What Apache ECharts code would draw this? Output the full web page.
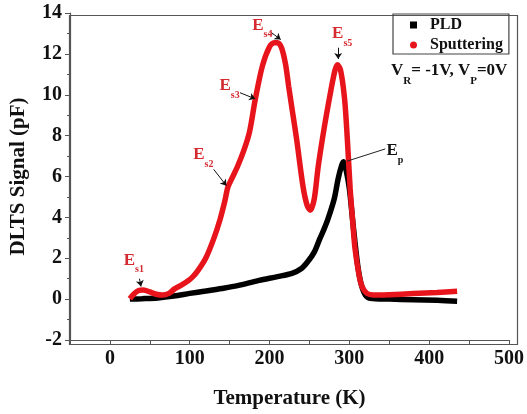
<!DOCTYPE html>
<html>
<head>
<meta charset="utf-8">
<script src="https://cdn.jsdelivr.net/npm/echarts@6/dist/echarts.min.js"></script>
<style>
  html, body { margin: 0; padding: 0; background: #fff; }
  #chart { width: 527px; height: 414px; }
</style>
</head>
<body>
<div id="chart"></div>
<script>
// Sputtering sample (red)
const sputterT = [25, 30, 36, 42, 50, 58, 66, 74, 81, 90, 98, 104, 110, 120, 130, 138, 144, 148, 154, 160, 168, 175, 182, 191, 200, 206, 210, 215, 220, 224, 229, 234, 242, 247, 251, 256, 261, 269, 277, 282, 285, 289, 294, 297.5, 301, 304, 307, 312, 316, 322, 330, 350, 380, 410, 435];
const sputterV = [0.02, 0.25, 0.42, 0.45, 0.35, 0.24, 0.2, 0.28, 0.5, 0.7, 0.9, 1.1, 1.38, 2.0, 2.95, 3.9, 4.8, 5.5, 6.0, 6.5, 7.3, 8.2, 9.75, 11.4, 12.35, 12.55, 12.55, 12.3, 11.5, 10.4, 9.1, 7.8, 5.5, 4.6, 4.35, 4.9, 6.5, 8.5, 10.25, 11.2, 11.47, 11.2, 9.8, 7.8, 5.4, 3.9, 2.5, 1.2, 0.6, 0.28, 0.2, 0.22, 0.27, 0.32, 0.38];

// PLD sample (black)
const pldT = [25, 40, 60, 80, 100, 120, 140, 160, 187, 210, 228, 240, 248, 256, 263, 268, 273, 281, 286, 290, 292.5, 296, 300, 304, 307, 311, 315, 320, 326, 350, 380, 410, 435];
const pldV = [0, 0.02, 0.06, 0.15, 0.28, 0.4, 0.52, 0.66, 0.92, 1.1, 1.26, 1.5, 1.84, 2.3, 2.96, 3.4, 3.9, 4.9, 5.9, 6.5, 6.72, 6.3, 5.4, 3.9, 2.8, 1.5, 0.7, 0.2, 0.04, 0.0, -0.03, -0.06, -0.1];

// peak labels: subscript, label position, arrow start, arrow end (data units)
const trapNames = ['s1', 's2', 's3', 's4', 's5'];
const trapLabelAt = [[30, 1.75], [117, 6.9], [150, 10.3], [191, 13.25], [291, 12.85]];
const trapArrowFrom = [[37, 1.0], [130, 6.35], [163, 10.1], [202, 13.05], [286, 12.3]];
const trapArrowTo = [[39, 0.62], [146, 5.55], [182, 9.8], [214, 12.7], [286, 11.75]];
const epLabelAt = [357, 7.1];
const epLineFrom = [345, 7.35];
const epLineTo = [297, 6.75];

const serif = '"Liberation Serif", "Times New Roman", serif';
const red = '#e8141c';
const labelRed = '#d42a30';
const axisGrey = '#555';

const zip = (xs, ys) => xs.map((x, i) => [x, ys[i]]);

const chart = echarts.init(document.getElementById('chart'));

const richE = (color) => ({
  e: { fontFamily: serif, fontWeight: 'bold', fontSize: 17, color: color, lineHeight: 18, verticalAlign: 'top' },
  s: { fontFamily: serif, fontWeight: 'bold', fontSize: 10, color: color, lineHeight: 23, verticalAlign: 'bottom' }
});

const gridBox = { left: 67, top: 13, right: 12, bottom: 72 };

chart.setOption({
  animation: false,
  backgroundColor: '#fff',
  grid: gridBox,
  legend: {
    orient: 'vertical',
    left: 393, top: 14,
    padding: [3, 6, 1, 17],
    itemGap: 4,
    itemWidth: 7, itemHeight: 7,
    borderColor: '#444', borderWidth: 1.2,
    textStyle: { fontFamily: serif, fontWeight: 'bold', fontSize: 16, color: '#111', padding: [0, 0, 0, 8] },
    data: [{ name: 'PLD', icon: 'rect' }, { name: 'Sputtering', icon: 'circle' }]
  },
  graphic: [{
    // frame around the plot area
    type: 'rect',
    left: gridBox.left, top: gridBox.top, z: 0,
    shape: { width: 527 - gridBox.left - gridBox.right, height: 414 - gridBox.top - gridBox.bottom },
    style: { fill: 'none', stroke: axisGrey, lineWidth: 1.2 },
    silent: true
  }, {
    type: 'text',
    left: 391, top: 62,
    style: {
      text: '{a|V}{b|R}{a|= -1V, V}{b|P}{a|=0V}',
      rich: {
        a: { fontFamily: serif, fontWeight: 'bold', fontSize: 17, fill: '#111', lineHeight: 18, verticalAlign: 'top' },
        b: { fontFamily: serif, fontWeight: 'bold', fontSize: 11, fill: '#111', lineHeight: 25, verticalAlign: 'bottom' }
      }
    }
  }],
  xAxis: {
    type: 'value',
    min: -50, max: 500, interval: 50,
    name: 'Temperature (K)',
    nameLocation: 'middle',
    nameGap: 48,
    nameTextStyle: { fontFamily: serif, fontWeight: 'bold', fontSize: 21, color: '#111' },
    axisLine: { onZero: false, lineStyle: { color: axisGrey, width: 1.2 } },
    axisTick: { inside: false, length: 5, lineStyle: { color: axisGrey } },
    axisLabel: {
      fontFamily: serif, fontWeight: 'bold', fontSize: 20, color: '#111', margin: 9,
      formatter: v => (v % 100 === 0 ? String(v) : '')
    },
    splitLine: { show: false }
  },
  yAxis: {
    type: 'value',
    min: -2, max: 14, interval: 2,
    name: 'DLTS Signal (pF)',
    nameLocation: 'middle',
    nameGap: 41,
    nameTextStyle: { fontFamily: serif, fontWeight: 'bold', fontSize: 21, color: '#111' },
    axisLine: { show: true, onZero: false, lineStyle: { color: axisGrey, width: 1.2 } },
    axisTick: { show: true, inside: false, length: 5, lineStyle: { color: axisGrey } },
    minorTick: { show: true, splitNumber: 2, length: 3, lineStyle: { color: axisGrey } },
    axisLabel: { fontFamily: serif, fontWeight: 'bold', fontSize: 20, color: '#111', margin: 8 },
    splitLine: { show: false }
  },
  series: [
    {
      name: 'PLD',
      type: 'line',
      data: zip(pldT, pldV),
      smooth: 0.3,
      showSymbol: false,
      color: '#000',
      lineStyle: { width: 5.5, color: '#000' },
      markPoint: {
        silent: true,
        symbol: 'rect', symbolSize: 1,
        itemStyle: { color: 'transparent' },
        label: { show: true, position: 'inside', rich: richE('#111') },
        data: [{ coord: epLabelAt, label: { formatter: '{e|E}{s|p}' } }]
      },
      markLine: {
        silent: true,
        symbol: ['none', 'none'],
        label: { show: false },
        lineStyle: { color: '#222', width: 1, type: 'solid' },
        data: [[{ coord: epLineFrom }, { coord: epLineTo }]]
      }
    },
    {
      name: 'Sputtering',
      type: 'line',
      data: zip(sputterT, sputterV),
      smooth: 0.3,
      showSymbol: false,
      color: red,
      lineStyle: { width: 5.5, color: red },
      markPoint: {
        silent: true,
        symbol: 'rect', symbolSize: 1,
        itemStyle: { color: 'transparent' },
        label: { show: true, position: 'inside', rich: richE(labelRed) },
        data: trapNames.map((n, i) => ({ coord: trapLabelAt[i], label: { formatter: '{e|E}{s|' + n + '}' } }))
      },
      markLine: {
        silent: true,
        symbol: ['none', 'arrow'],
        symbolSize: 6,
        label: { show: false },
        lineStyle: { color: '#111', width: 1, type: 'solid' },
        data: trapNames.map((n, i) => [{ coord: trapArrowFrom[i] }, { coord: trapArrowTo[i] }])
      }
    }
  ]
});
</script>
</body>
</html>
